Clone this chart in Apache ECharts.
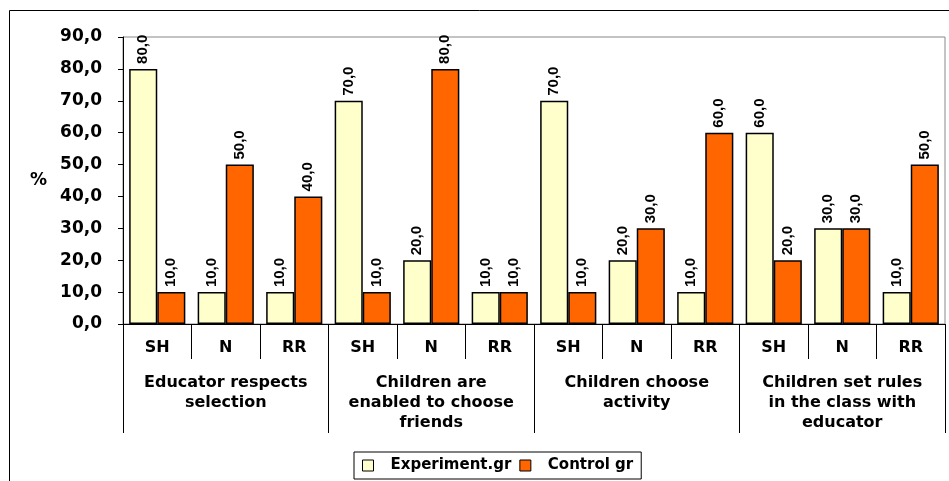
<!DOCTYPE html>
<html>
<head>
<meta charset="utf-8">
<script src="https://cdn.jsdelivr.net/npm/echarts@6/dist/echarts.min.js"></script>
<style>
  html, body { margin: 0; padding: 0; background: #fff; }
  #main { width: 949px; height: 481px; }
</style>
</head>
<body>
<div id="main"></div>
<script>
// sub categories (SH / N / RR for each group)
var subCats = ['SH', 'N', 'RR', 'SH', 'N', 'RR', 'SH', 'N', 'RR', 'SH', 'N', 'RR'];
var groups = [
    'Educator respects\nselection',
    'Children are\nenabled to choose\nfriends',
    'Children choose\nactivity',
    'Children set rules\nin the class with\neducator'
];
var experiment = [80, 10, 10, 70, 20, 10, 70, 20, 10, 60, 30, 10];
var control = [10, 50, 40, 10, 80, 10, 10, 30, 60, 20, 30, 50];
var yTicks = [0, 90, 10];  // min, max, step

// wide bold face, the original text is stretched horizontally
var WIDE = 'DejaVu Sans, Verdana, sans-serif';
var NARROW = 'Liberation Sans, Arial, sans-serif';

function fmt(v) {
    return v.toFixed(1).replace('.', ',');
}

var valueLabel = {
    show: true,
    position: 'top',
    rotate: 90,
    align: 'left',
    verticalAlign: 'middle',
    distance: 5,
    fontFamily: NARROW,
    fontWeight: 'bold',
    fontSize: 15,
    color: '#000',
    formatter: function (p) { return fmt(p.value); }
};

var chart = echarts.init(document.getElementById('main'));

var option = {
    animation: false,
    backgroundColor: '#fff',
    textStyle: { fontFamily: WIDE },
    grid: {
        left: 123, top: 37, right: 4, bottom: 157,
        show: true, borderColor: '#888', borderWidth: 1,
        containLabel: false
    },
    graphic: [
        { type: 'line', shape: { x1: 9.5, y1: 10.5, x2: 949, y2: 10.5 }, style: { stroke: '#000', lineWidth: 1 } },
        { type: 'line', shape: { x1: 9.5, y1: 10.5, x2: 9.5, y2: 481 }, style: { stroke: '#000', lineWidth: 1 } }
    ],
    legend: {
        left: 354, top: 452,
        padding: [6, 8, 6, 8],
        borderColor: '#000', borderWidth: 1,
        itemWidth: 11, itemHeight: 11, itemGap: 8,
        icon: 'rect',
        itemStyle: { borderColor: '#000', borderWidth: 1 },
        textStyle: { fontFamily: WIDE, fontWeight: 'bold', fontSize: 15, color: '#000', padding: [0, 0, 0, 12] },
        data: ['Experiment.gr', 'Control gr']
    },
    xAxis: [
        {
            type: 'category',
            data: subCats,
            position: 'bottom',
            axisLine: { lineStyle: { color: '#000' } },
            axisTick: { show: true, interval: 0, length: 35, alignWithLabel: false, lineStyle: { color: '#000' } },
            axisLabel: { interval: 0, margin: 16, fontFamily: WIDE, fontWeight: 'bold', fontSize: 16, color: '#000' }
        },
        {
            type: 'category',
            data: groups,
            position: 'bottom',
            axisLine: { show: false },
            axisTick: { show: true, interval: 0, length: 109, lineStyle: { color: '#000' } },
            axisLabel: { interval: 0, hideOverlap: false, margin: 49, lineHeight: 20, fontFamily: WIDE, fontWeight: 'bold', fontSize: 16, color: '#000' }
        }
    ],
    yAxis: {
        type: 'value',
        min: yTicks[0], max: yTicks[1], interval: yTicks[2],
        name: '%',
        nameLocation: 'middle',
        nameRotate: 0,
        nameGap: 76,
        nameTextStyle: { fontFamily: WIDE, fontWeight: 'bold', fontSize: 17, color: '#000' },
        axisLine: { show: true, lineStyle: { color: '#000' } },
        axisTick: { show: true, length: 5, lineStyle: { color: '#000' } },
        splitLine: { show: false },
        axisLabel: {
            margin: 21,
            fontFamily: WIDE, fontWeight: 'bold', fontSize: 17, color: '#000',
            formatter: function (v) { return fmt(v); }
        }
    },
    series: [
        {
            name: 'Experiment.gr',
            type: 'bar',
            xAxisIndex: 0,
            data: experiment,
            barGap: '0%',
            barCategoryGap: '18%',
            itemStyle: { color: '#FFFFCC', borderColor: '#000', borderWidth: 1.5 },
            label: valueLabel
        },
        {
            name: 'Control gr',
            type: 'bar',
            xAxisIndex: 0,
            data: control,
            itemStyle: { color: '#FF6600', borderColor: '#000', borderWidth: 1.5 },
            label: valueLabel
        }
    ]
};

chart.setOption(option);
</script>
</body>
</html>
